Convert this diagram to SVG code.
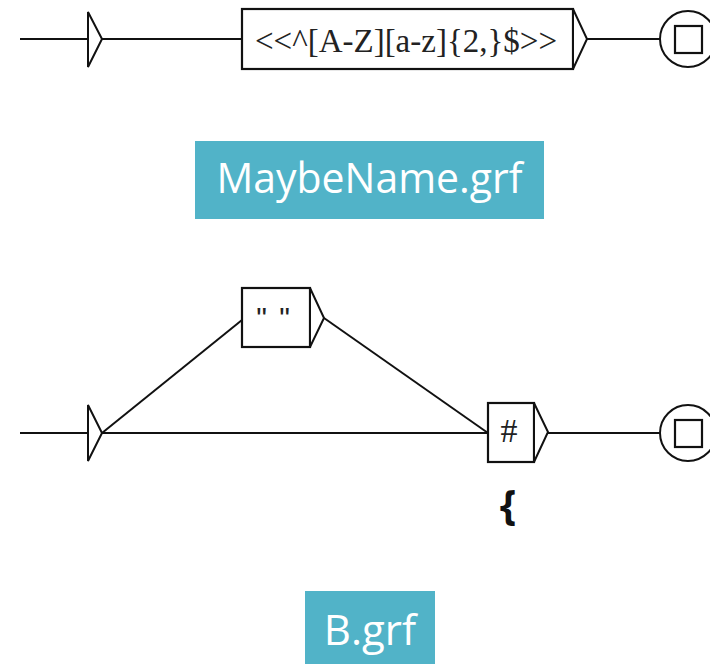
<svg xmlns="http://www.w3.org/2000/svg" width="710" height="664" viewBox="0 0 710 664">
  <style>
    .ln { fill: none; stroke: #111; stroke-width: 2; }
    .box { fill: #fff; stroke: #111; stroke-width: 2.2; }
    .tri { fill: #fff; stroke: #111; stroke-width: 2; stroke-linejoin: miter; }
    .grf { font-family: "Times New Roman", "Liberation Serif", serif; fill: #222; }
    .tag { fill: #51b3c8; }
    .tagtxt { font-family: "Open Sans", "Noto Sans", sans-serif; fill: #fff; }
  </style>
  <rect width="710" height="664" fill="#fff"/>

  <!-- MaybeName.grf graph -->
  <g id="connectors-top">
    <line class="ln" x1="20" y1="39" x2="89" y2="39"/>
    <line class="ln" x1="102" y1="39" x2="242" y2="39"/>
    <line class="ln" x1="587" y1="39" x2="660" y2="39"/>
  </g>
  <g id="init-top">
    <polygon class="tri" points="88,12 102,39 88,67"/>
  </g>
  <g id="regex-box">
    <rect class="box" x="242" y="9" width="331" height="60"/>
    <polygon class="tri" points="573,9 587,39 573,69"/>
    <text class="grf" x="255" y="52" font-size="33" textLength="302" lengthAdjust="spacingAndGlyphs">&lt;&lt;^[A-Z][a-z]{2,}$&gt;&gt;</text>
  </g>
  <g id="final-top">
    <circle cx="688" cy="39" r="28" fill="#fff" stroke="#111" stroke-width="2"/>
    <rect x="675" y="26" width="27" height="27" fill="#fff" stroke="#111" stroke-width="2.2"/>
  </g>
  <g id="label-maybename">
    <rect class="tag" x="195" y="141" width="349" height="78"/>
    <text class="tagtxt" x="369.5" y="193" font-size="42" text-anchor="middle" textLength="306" lengthAdjust="spacingAndGlyphs">MaybeName.grf</text>
  </g>

  <!-- B.grf graph -->
  <g id="connectors-bottom">
    <line class="ln" x1="20" y1="433" x2="89" y2="433"/>
    <line class="ln" x1="102" y1="433" x2="488" y2="433"/>
    <line class="ln" x1="102" y1="433" x2="242" y2="320"/>
    <line class="ln" x1="324" y1="318" x2="488" y2="433"/>
    <line class="ln" x1="548" y1="433" x2="660" y2="433"/>
  </g>
  <g id="init-bottom">
    <polygon class="tri" points="88,405 102,433 88,461"/>
  </g>
  <g id="space-box">
    <rect class="box" x="242" y="288" width="68" height="59"/>
    <polygon class="tri" points="310,288 324,318 310,347"/>
    <text x="274" y="328" font-size="30" text-anchor="middle" font-family="Liberation Sans, sans-serif" fill="#222" letter-spacing="2">"  "</text>
  </g>
  <g id="hash-box">
    <rect class="box" x="488" y="403" width="46" height="59"/>
    <polygon class="tri" points="534,403 548,432 534,462"/>
    <text class="grf" x="509" y="442" font-size="34" text-anchor="middle">#</text>
    <text x="508" y="520" font-size="42" font-weight="bold" text-anchor="middle" font-family="Open Sans, Noto Sans, sans-serif" fill="#111">{</text>
  </g>
  <g id="final-bottom">
    <circle cx="688" cy="433" r="28" fill="#fff" stroke="#111" stroke-width="2"/>
    <rect x="675" y="420" width="27" height="27" fill="#fff" stroke="#111" stroke-width="2.2"/>
  </g>
  <g id="label-b">
    <rect class="tag" x="305" y="591" width="130" height="73"/>
    <text class="tagtxt" x="370" y="645" font-size="42" text-anchor="middle">B.grf</text>
  </g>
</svg>
